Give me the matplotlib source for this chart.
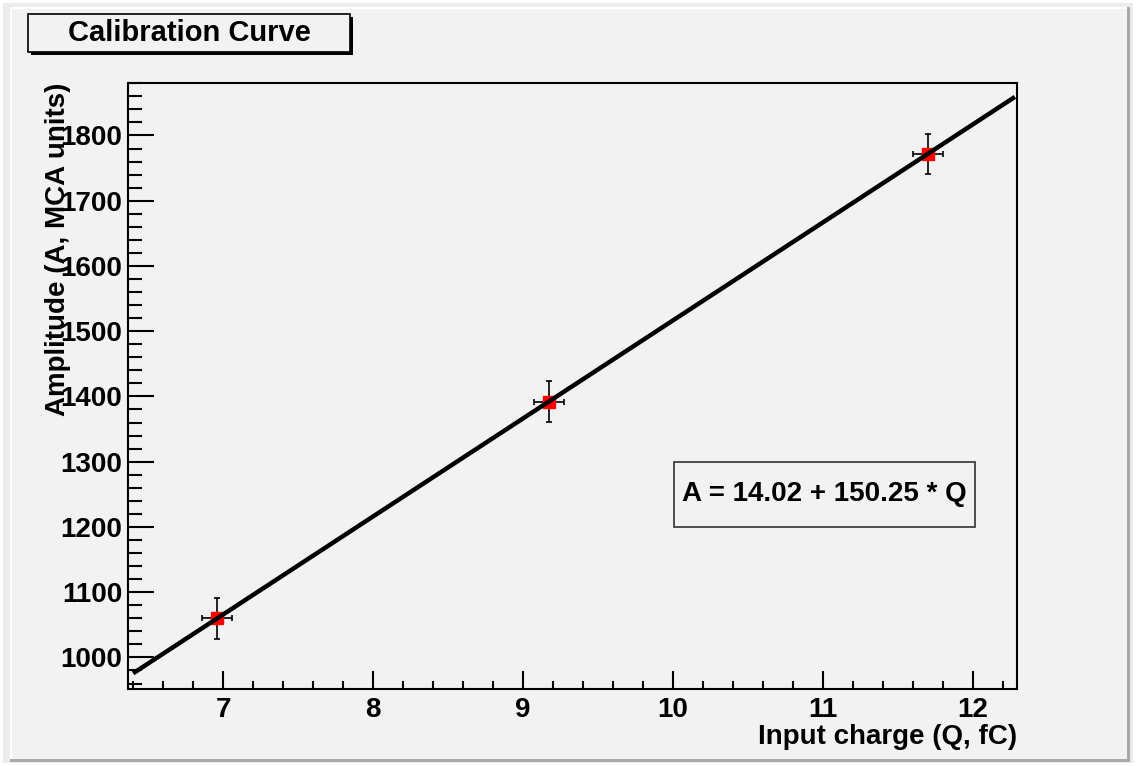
import numpy as np
import matplotlib.pyplot as plt
from matplotlib.patches import Rectangle
from matplotlib.ticker import MultipleLocator

# Calibration points: input charge (fC) vs. amplitude (MCA units)
charge = np.array([6.96, 9.17, 11.70])
amplitude = np.array([1060, 1392, 1772])
charge_err = np.array([0.1, 0.1, 0.1])
amplitude_err = np.array([31, 31, 31])

# Linear fit result A = p0 + p1 * Q
p0 = 14.02
p1 = 150.25
fit_range = [6.4, 12.28]

W, H = 1137, 766
BG = '#f2f2f2'

plt.rcParams['font.family'] = ['Liberation Sans', 'DejaVu Sans']
plt.rcParams['font.weight'] = 'bold'

fig = plt.figure(figsize=(W / 100, H / 100), dpi=100, facecolor='white')


def px(x0, y0, x1, y1):
    # pixel box (top-left origin) -> figure fraction rectangle
    return (x0 / W, 1 - y1 / H, (x1 - x0) / W, (y1 - y0) / H)


def add_rect(x0, y0, x1, y1, **kw):
    l, b, w, h = px(x0, y0, x1, y1)
    fig.patches.append(Rectangle((l, b), w, h, transform=fig.transFigure, **kw))


# canvas with bevelled border
add_rect(3, 3, 1133, 763, facecolor='#ececec', edgecolor='none', zorder=-10)
add_rect(10, 7, 1130, 762, facecolor='#a9a9a9', edgecolor='none', zorder=-9)
add_rect(10, 7, 1127, 759, facecolor='white', edgecolor='none', zorder=-8)
add_rect(12, 9, 1127, 759, facecolor=BG, edgecolor='none', zorder=-7)

ax = fig.add_axes(px(128, 83, 1017, 689))
ax.set_facecolor('none')
ax.set_zorder(1)

# axis ranges padded by 10% like a TGraph
xlo, xhi = (charge - charge_err).min(), (charge + charge_err).max()
ylo, yhi = (amplitude - amplitude_err).min(), (amplitude + amplitude_err).max()
ax.set_xlim(xlo - 0.1 * (xhi - xlo), xhi + 0.1 * (xhi - xlo))
ax.set_ylim(ylo - 0.1 * (yhi - ylo), yhi + 0.1 * (yhi - ylo))

qf = np.array(fit_range)
ax.plot(qf, p0 + p1 * qf, color='black', lw=3.2, solid_capstyle='butt', zorder=3)

ax.errorbar(charge, amplitude, xerr=charge_err, yerr=amplitude_err, fmt='s',
            color='red', ms=8, mec='red', ecolor='black', elinewidth=1.2,
            capsize=2.5, capthick=1.2, zorder=2)

for s in ax.spines.values():
    s.set_linewidth(1.5)
    s.set_color('black')

ax.xaxis.set_major_locator(MultipleLocator(1))
ax.xaxis.set_minor_locator(MultipleLocator(0.2))
ax.yaxis.set_major_locator(MultipleLocator(100))
ax.yaxis.set_minor_locator(MultipleLocator(20))
ax.tick_params(axis='both', which='both', direction='in', top=False, right=False,
               width=1.5, labelsize=20)
ax.tick_params(axis='x', which='major', length=13, pad=6)
ax.tick_params(axis='x', which='minor', length=6)
ax.tick_params(axis='y', which='major', length=19, pad=4)
ax.tick_params(axis='y', which='minor', length=10)
for lab in ax.get_xticklabels() + ax.get_yticklabels():
    lab.set_fontweight('bold')

fig.text(1017 / W, 1 - 737 / H, 'Input charge (Q, fC)', ha='right', va='center',
         fontsize=20, fontweight='bold')
fig.text(58 / W, 1 - 83 / H, 'Amplitude (A, MCA units)', ha='center', va='top',
         rotation=90, fontsize=20, fontweight='bold', zorder=2)

# title box with shadow
add_rect(31, 17, 353, 55, facecolor='black', edgecolor='none', zorder=4)
add_rect(28, 14, 350, 52, facecolor=BG, edgecolor='black', lw=1.2, zorder=5)
fig.text(189 / W, 1 - 33 / H, 'Calibration Curve', ha='center', va='center',
         fontsize=21, fontweight='bold', zorder=6)

# fit result box
add_rect(674, 462, 975, 527, facecolor=BG, edgecolor='#333333', lw=1.2, zorder=4)
fig.text(824 / W, 1 - 494 / H, f'A = {p0:.2f} + {p1:.2f} * Q', ha='center',
         va='center', fontsize=20, fontweight='bold', zorder=6)

fig.savefig('out.png', dpi=100, facecolor='white')
